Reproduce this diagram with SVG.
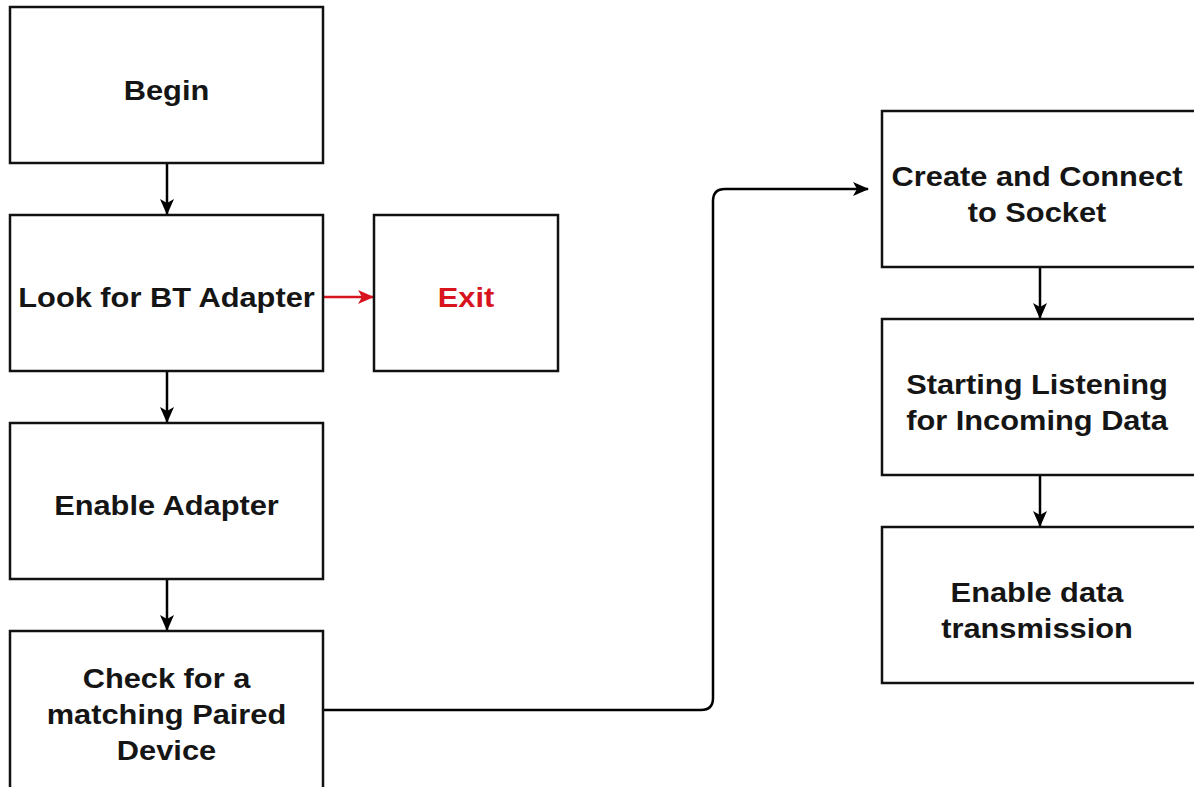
<svg xmlns="http://www.w3.org/2000/svg" width="1194" height="787" viewBox="0 0 1194 787">
  <style>
    .box { fill: #ffffff; stroke: #111111; stroke-width: 2.5; }
    .lbl { font-family: "Liberation Sans", Arial, sans-serif; font-weight: bold; font-size: 28px; fill: #151515; text-anchor: middle; }
    .red { fill: #d8141f; }
    .edge { fill: none; stroke: #000000; stroke-width: 2.5; }
    .edge-red { fill: none; stroke: #d8141f; stroke-width: 2.5; }
  </style>
  <defs>
    <marker id="arrow" viewBox="0 0 16 16" refX="15" refY="8" markerWidth="16" markerHeight="16" markerUnits="userSpaceOnUse" orient="auto">
      <path d="M0,1 L16,8 L0,15 L4,8 Z" fill="#000000"/>
    </marker>
    <marker id="arrow-red" viewBox="0 0 16 16" refX="15" refY="8" markerWidth="16" markerHeight="16" markerUnits="userSpaceOnUse" orient="auto">
      <path d="M0,1 L16,8 L0,15 L4,8 Z" fill="#d8141f"/>
    </marker>
  </defs>
  <rect width="1194" height="787" fill="#ffffff"/>

  <g id="connectors">
    <line class="edge" x1="167" y1="163" x2="167" y2="214" marker-end="url(#arrow)"/>
    <line class="edge-red" x1="323" y1="297" x2="373" y2="297" marker-end="url(#arrow-red)"/>
    <line class="edge" x1="167" y1="371" x2="167" y2="422" marker-end="url(#arrow)"/>
    <line class="edge" x1="167" y1="579" x2="167" y2="630" marker-end="url(#arrow)"/>
    <path class="edge" d="M323,710 H701 Q713,710 713,698 V201 Q713,189 725,189 H868" marker-end="url(#arrow)"/>
    <line class="edge" x1="1040" y1="267" x2="1040" y2="318" marker-end="url(#arrow)"/>
    <line class="edge" x1="1040" y1="475" x2="1040" y2="526" marker-end="url(#arrow)"/>
  </g>

  <g id="begin">
    <rect class="box" x="10" y="7" width="313" height="156"/>
    <text class="lbl" transform="translate(166.5,100) scale(1.1,1)">Begin</text>
  </g>
  <g id="look-for-adapter">
    <rect class="box" x="10" y="215" width="313" height="156"/>
    <text class="lbl" transform="translate(166.5,307) scale(1.1,1)">Look for BT Adapter</text>
  </g>
  <g id="exit">
    <rect class="box" x="374" y="215" width="184" height="156"/>
    <text class="lbl red" transform="translate(466,307) scale(1.1,1)">Exit</text>
  </g>
  <g id="enable-adapter">
    <rect class="box" x="10" y="423" width="313" height="156"/>
    <text class="lbl" transform="translate(166.5,515) scale(1.1,1)">Enable Adapter</text>
  </g>
  <g id="check-paired">
    <rect class="box" x="10" y="631" width="313" height="158"/>
    <text class="lbl" transform="translate(166.5,688) scale(1.1,1)">Check for a</text>
    <text class="lbl" transform="translate(166.5,724) scale(1.1,1)">matching Paired</text>
    <text class="lbl" transform="translate(166.5,760) scale(1.1,1)">Device</text>
  </g>
  <g id="create-socket">
    <rect class="box" x="882" y="111" width="314" height="156"/>
    <text class="lbl" transform="translate(1037,186) scale(1.1,1)">Create and Connect</text>
    <text class="lbl" transform="translate(1037,222) scale(1.1,1)">to Socket</text>
  </g>
  <g id="start-listening">
    <rect class="box" x="882" y="319" width="314" height="156"/>
    <text class="lbl" transform="translate(1037,394) scale(1.1,1)">Starting Listening</text>
    <text class="lbl" transform="translate(1037,430) scale(1.1,1)">for Incoming Data</text>
  </g>
  <g id="enable-transmission">
    <rect class="box" x="882" y="527" width="314" height="156"/>
    <text class="lbl" transform="translate(1037,602) scale(1.1,1)">Enable data</text>
    <text class="lbl" transform="translate(1037,638) scale(1.1,1)">transmission</text>
  </g>
</svg>
